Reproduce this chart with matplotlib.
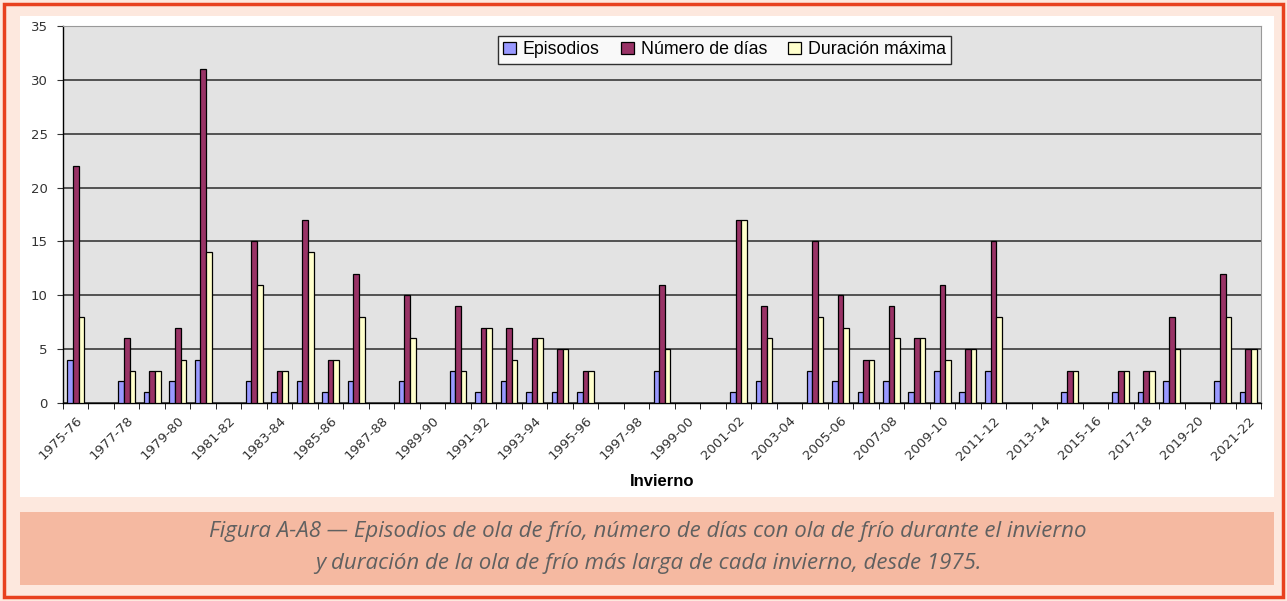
import numpy as np
import matplotlib.pyplot as plt
from matplotlib.patches import Rectangle

# Inviernos 1975-76 .. 2021-22
inviernos = [f"{y}-{str(y + 1)[-2:]}" for y in range(1975, 2022)]

episodios = [4, 0, 2, 1, 2, 4, 0, 2, 1, 2, 1, 2, 0, 2, 0, 3, 1, 2, 1, 1, 1, 0, 0, 3,
             0, 0, 1, 2, 0, 3, 2, 1, 2, 1, 3, 1, 3, 0, 0, 1, 0, 1, 1, 2, 0, 2, 1]
num_dias = [22, 0, 6, 3, 7, 31, 0, 15, 3, 17, 4, 12, 0, 10, 0, 9, 7, 7, 6, 5, 3, 0, 0, 11,
            0, 0, 17, 9, 0, 15, 10, 4, 9, 6, 11, 5, 15, 0, 0, 3, 0, 3, 3, 8, 0, 12, 5]
dur_max = [8, 0, 3, 3, 4, 14, 0, 11, 3, 14, 4, 8, 0, 6, 0, 3, 7, 4, 6, 5, 3, 0, 0, 5,
           0, 0, 17, 6, 0, 8, 7, 4, 6, 6, 4, 5, 8, 0, 0, 3, 0, 3, 3, 5, 0, 8, 5]

series = [("Episodios", episodios, "#9999ff"),
          ("Número de días", num_dias, "#993366"),
          ("Duración máxima", dur_max, "#ffffcc")]

W, H = 1287, 601
fig = plt.figure(figsize=(W / 100, H / 100), dpi=100)
fig.patch.set_facecolor("#fde8de")

def px_rect(x0, y0, x1, y1, **kw):
    fig.patches.append(Rectangle((x0 / W, 1 - y1 / H), (x1 - x0) / W, (y1 - y0) / H,
                                 transform=fig.transFigure, zorder=-5, **kw))

# marco rojo, panel blanco y banda del pie
px_rect(4, 4, 1283, 597, facecolor="none", edgecolor="#e8411e", linewidth=2.5)
px_rect(20, 16, 1274, 497, facecolor="white", edgecolor="none")
px_rect(20, 512, 1274, 585, facecolor="#f5b9a1", edgecolor="none")

ax = fig.add_axes([63 / W, 1 - 403 / H, (1261 - 63) / W, (403 - 26) / H])
ax.set_facecolor("#e3e3e3")

x = np.arange(len(inviernos))
bw = 0.22
for k, (name, vals, col) in enumerate(series):
    vals = np.asarray(vals)
    nz = vals > 0  # inviernos sin ola de frío: sin barra
    ax.bar(x[nz] + (k - 1) * bw, vals[nz], width=bw, color=col, edgecolor="black",
           linewidth=0.9, label=name, zorder=3)

ax.set_xlim(-0.5, len(inviernos) - 0.5)
ax.set_ylim(0, 35)
ax.set_yticks(range(0, 36, 5))
ax.yaxis.grid(True, color="#2a2a2a", linewidth=1.1, zorder=1)
ax.tick_params(axis="y", direction="out", length=4, labelsize=9.5, colors="#333333", pad=7)

ax.set_xticks(x[::2])
ax.set_xticklabels(inviernos[::2], rotation=45, ha="right", rotation_mode="anchor",
                   fontsize=9.5, color="#333333")
ax.set_xticks(np.arange(-0.5, len(inviernos)), minor=True)
ax.tick_params(axis="x", which="major", length=0, pad=8)
ax.tick_params(axis="x", which="minor", direction="out", length=4, color="black")

for s in ("top", "right"):
    ax.spines[s].set_color("#999999")
    ax.spines[s].set_linewidth(0.8)
for s in ("left", "bottom"):
    ax.spines[s].set_color("black")
    ax.spines[s].set_linewidth(1)

ax.set_xlabel("Invierno", fontsize=12, fontweight="bold",
              family="Liberation Sans", labelpad=8)

leg = ax.legend(loc="upper left", bbox_to_anchor=((498 - 63) / 1198, 1 - 10 / 377), ncol=3,
                prop={"family": "Liberation Sans", "size": 12.8},
                frameon=True, fancybox=False, edgecolor="black",
                handlelength=0.7, handleheight=0.7, handletextpad=0.4,
                columnspacing=1.2, borderpad=0.3, borderaxespad=0)
leg.get_frame().set_linewidth(1)

fig.text(648 / W, 1 - 531 / H,
         "Figura A-A8 — Episodios de ola de frío, número de días con ola de frío durante el invierno",
         ha="center", va="center", style="italic", family="Open Sans",
         fontsize=16, color="#606060")
fig.text(648 / W, 1 - 564 / H,
         "y duración de la ola de frío más larga de cada invierno, desde 1975.",
         ha="center", va="center", style="italic", family="Open Sans",
         fontsize=16, color="#606060")

fig.savefig("out.png", dpi=100, facecolor=fig.get_facecolor())
